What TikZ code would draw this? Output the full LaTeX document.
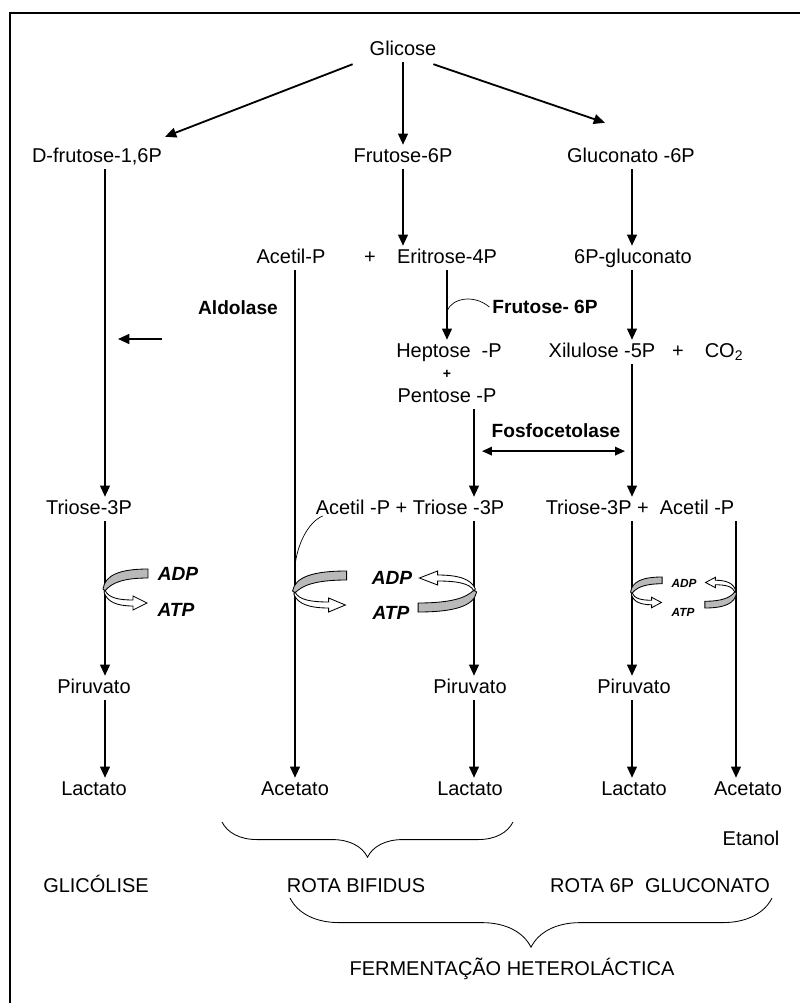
\documentclass[tikz,border=0pt]{standalone}
\usepackage{fontspec}
\setmainfont{Liberation Sans}
\usepackage{tikz}
\usetikzlibrary{arrows.meta, calc, positioning, decorations.pathreplacing}

\tikzset{
  met/.style={inner sep=2pt, font=\fontsize{14.2}{17}\selectfont, text height=10.5pt, text depth=2.5pt},
  enz/.style={inner sep=2pt, font=\fontsize{13.6}{16}\selectfont\bfseries},
  energ/.style={inner sep=1pt, font=\fontsize{13.6}{16}\selectfont\bfseries\itshape},
  energp/.style={inner sep=1pt, font=\fontsize{8.4}{10}\selectfont\bfseries\itshape},
  flux/.style={-{Triangle[length=8pt,width=7pt]}, line width=1.3pt},
  dupla/.style={{Triangle[length=7pt,width=6pt]}-{Triangle[length=7pt,width=6pt]}, line width=1.1pt},
  fino/.style={line width=0.5pt},
  chave/.style={decorate, decoration={brace, amplitude=#1, aspect=0.5}, line width=0.6pt},
  pics/energia/.style={code={
    \filldraw[fill=gray!55, line width=0.6pt] (43,-20) .. controls (15,-20) and (0,-14) .. (-2,0)
      -- (0,2) .. controls (6,-6) and (18,-11) .. (43,-11) -- cycle;
    \filldraw[fill=white, line width=0.6pt] (0,1) .. controls (3,9) and (14,11) .. (28,11)
      -- (28,7) -- (42,14) -- (28,21) -- (28,17) .. controls (12,17) and (2,13) .. (-1,3) -- cycle;
  }}
}

\begin{document}
\begin{tikzpicture}[x=0.025cm, y=-0.025cm]
  \useasboundingbox (0,0) rectangle (800,1003);
  % frame
  \draw[line width=2pt] (10,1003) -- (10,13) -- (800,13);
  % columns of the vertical arrows
  \coordinate (c1) at (105,0);
  \coordinate (c2) at (295,0);
  \coordinate (c3) at (403,0);
  \coordinate (c4) at (447,0);
  \coordinate (c5) at (474,0);
  \coordinate (c6) at (632,0);
  \coordinate (c7) at (736,0);

  % metabolites
  \node[met] (glic) at (403,50) {Glicose};
  \node[met] (dfru) at (97,157) {D-frutose-1,6P};
  \node[met] (fru6) at (403,157) {Frutose-6P};
  \node[met] (glc6) at (631,157) {Gluconato -6P};
  \node[met] (acp1) at (291,258) {Acetil-P};
  \node[met] (mais1) at (370,258) {+};
  \node[met] (eri) at (447,258) {Eritrose-4P};
  \node[met] (pglc) at (633,258) {6P-gluconato};
  \node[met] (hep) at (449,352) {Heptose \ -P};
  \node[inner sep=1pt, font=\fontsize{10}{12}\selectfont\bfseries] (mais2) at (447,374) {+};
  \node[met] (pent) at (447,397) {Pentose -P};
  \node[met] (xil) at (602,352) {Xilulose -5P};
  \node[met] (mais3) at (678,352) {+};
  \node[met] (co2) at (724,352) {CO\textsubscript{2}};
  \node[met] (tri1) at (89,509) {Triose-3P};
  \node[met] (at2) at (410,509) {Acetil -P + Triose -3P};
  \node[met] (ta3) at (640,509) {Triose-3P + \ Acetil -P};
  \node[met] (pir1) at (94,688) {Piruvato};
  \node[met] (pir2) at (470,688) {Piruvato};
  \node[met] (pir3) at (634,688) {Piruvato};
  \node[met] (lac1) at (94,790) {Lactato};
  \node[met] (act2) at (295,790) {Acetato};
  \node[met] (lac2) at (470,790) {Lactato};
  \node[met] (lac3) at (634,790) {Lactato};
  \node[met] (act3) at (748,790) {Acetato};
  \node[met] (etan) at (751,840) {Etanol};

  % enzymes
  \node[enz] (aldo) at (238,308) {Aldolase};
  \node[enz] (fru6b) at (545,307) {Frutose- 6P};
  \node[enz] (fosfo) at (556,431) {Fosfocetolase};

  % pathways
  \node[met] (glicol) at (96,887) {GLICÓLISE};
  \node[met] (bifid) at (356,887) {ROTA BIFIDUS};
  \node[met] (r6p) at (660,887) {ROTA 6P \ GLUCONATO};
  \node[met] (ferm) at (512,970) {FERMENTAÇÃO HETEROLÁCTICA};

  % from glucose
  \draw[flux] ($(glic.south west)+(-14,2)$) -- ($(dfru.north east)+(0,-8)$);
  \draw[flux] (glic.south) -- (fru6.north);
  \draw[flux] ($(glic.south east)+(-6,2)$) -- ($(glc6.north)+(-26,-22)$);

  % glycolysis
  \draw[flux] (dfru.south -| c1) -- (tri1.north -| c1);
  \draw[flux] (tri1.south -| c1) -- (pir1.north -| c1);
  \draw[flux] (pir1.south -| c1) -- (lac1.north -| c1);
  \draw[flux] (162,339) -- (118,339);

  % bifidus pathway
  \draw[flux] (fru6.south) -- (fru6.south |- eri.north);
  \draw[flux] (acp1.south -| c2) -- (act2.north -| c2);
  \draw[flux] (eri.south -| c4) -- (hep.north -| c4);
  \draw[fino] (c4 |- 0,311) .. controls (452,298) and (474,294) .. (fru6b.west);
  \draw[flux] (pent.south -| c5) -- (at2.north -| c5);
  \draw[flux] (at2.south -| c5) -- (pir2.north -| c5);
  \draw[flux] (pir2.south -| c5) -- (lac2.north -| c5);
  \draw[fino] ($(at2.west)+(10,7)$) .. controls (308,522) and (297,545) .. (c2 |- 0,566);

  % 6P-gluconate pathway
  \draw[flux] (glc6.south -| c6) -- (pglc.north -| c6);
  \draw[flux] (pglc.south -| c6) -- (xil.north -| c6);
  \draw[flux] (xil.south -| c6) -- (ta3.north -| c6);
  \draw[flux] (ta3.south -| c6) -- (pir3.north -| c6);
  \draw[flux] (pir3.south -| c6) -- (lac3.north -| c6);
  \draw[flux] (ta3.south -| c7) -- (act3.north -| c7);
  \draw[dupla] ($(c5 |- fosfo.south)+(8,10)$) -- ($(c6 |- fosfo.south)+(-7,10)$);

  % ATP formation
  \pic at (105,589) {energia};
  \pic[xscale=1.2] at (295,591) {energia};
  \pic[rotate=180, xscale=1.3] at (474,592) {energia};
  \pic[xscale=0.7, yscale=0.75] at (632,592) {energia};
  \pic[rotate=180, xscale=0.7, yscale=0.75] at (735,593) {energia};
  \node[energ] (adp1) at (178,574) {ADP};
  \node[energ] (atp1) at (176,610) {ATP};
  \node[energ] (adp2) at (392,578) {ADP};
  \node[energ] (atp2) at (391,613) {ATP};
  \node[energp] (adp3) at (684,583) {ADP};
  \node[energp] (atp3) at (683,612) {ATP};

  % braces
  \draw[chave=25pt] (513,822) -- (222,822);
  \draw[chave=35pt] (772,898) -- (290,898);
\end{tikzpicture}
\end{document}
